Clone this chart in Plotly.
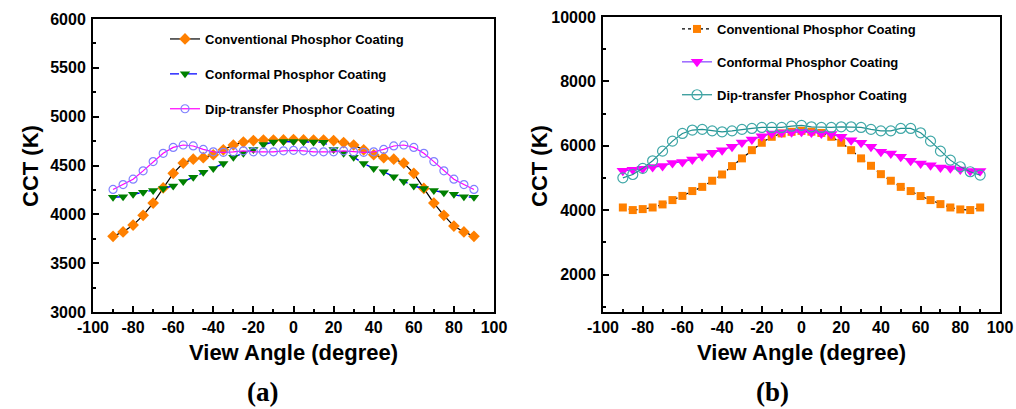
import plotly.graph_objects as go

angles = [-90, -85, -80, -75, -70, -65, -60, -55, -50, -45, -40, -35, -30, -25, -20, -15, -10, -5, 0,
          5, 10, 15, 20, 25, 30, 35, 40, 45, 50, 55, 60, 65, 70, 75, 80, 85, 90]

# Panel (a)
a_conventional = [3775, 3820, 3890, 3990, 4115, 4270, 4420, 4525, 4565, 4580, 4610, 4660, 4710, 4740, 4755, 4760, 4760, 4762, 4765,
                  4762, 4760, 4760, 4755, 4735, 4710, 4660, 4610, 4580, 4565, 4525, 4420, 4265, 4115, 3990, 3880, 3820, 3775]
a_conformal = [4175, 4180, 4205, 4225, 4245, 4265, 4290, 4335, 4380, 4430, 4470, 4520, 4585, 4625, 4665, 4715, 4740, 4745, 4745,
               4742, 4740, 4738, 4665, 4625, 4585, 4520, 4470, 4435, 4385, 4335, 4290, 4265, 4245, 4220, 4205, 4180, 4175]
a_dip = [4255, 4305, 4360, 4445, 4540, 4625, 4685, 4710, 4700, 4665, 4640, 4635, 4640, 4650, 4640, 4640, 4640, 4650, 4655,
         4650, 4640, 4640, 4640, 4650, 4640, 4635, 4640, 4665, 4700, 4710, 4685, 4625, 4540, 4445, 4360, 4305, 4255]

# Panel (b)
b_conventional = [4085, 4005, 4035, 4085, 4180, 4315, 4445, 4595, 4725, 4915, 5110, 5370, 5610, 5865, 6095, 6280, 6385, 6435, 6465,
                  6440, 6400, 6280, 6095, 5865, 5610, 5380, 5120, 4915, 4725, 4595, 4440, 4315, 4190, 4085, 4025, 4005, 4085]
b_conformal = [5225, 5255, 5285, 5340, 5370, 5470, 5500, 5575, 5680, 5785, 5865, 5970, 6105, 6195, 6300, 6385, 6415, 6420, 6435,
               6415, 6385, 6365, 6280, 6175, 6095, 5970, 5815, 5760, 5660, 5535, 5450, 5400, 5330, 5300, 5265, 5215, 5215]
b_dip = [5005, 5110, 5300, 5535, 5835, 6145, 6385, 6490, 6510, 6465, 6435, 6465, 6510, 6540, 6570, 6570, 6570, 6610, 6635,
         6590, 6570, 6570, 6590, 6590, 6570, 6510, 6465, 6465, 6540, 6540, 6405, 6145, 5835, 5555, 5350, 5195, 5090]

x_ticks = [-100, -80, -60, -40, -20, 0, 20, 40, 60, 80, 100]
x_ticklabels = ["-100", "-80", "-60", "-40", "-20", "0", "20", "40", "60", "80", "100"]
a_yticks = [3000, 3500, 4000, 4500, 5000, 5500, 6000]
b_yticks = [2000, 4000, 6000, 8000, 10000]

names = ["Conventional Phosphor Coating", "Conformal Phosphor Coating", "Dip-transfer Phosphor Coating"]

W, H = 1016, 409
FONT = "Liberation Sans, Arial, sans-serif"

fig = go.Figure()

# panel a traces
fig.add_trace(go.Scatter(x=angles, y=a_conventional, name=names[0], mode="lines+markers",
                         line=dict(color="black", width=1.2),
                         marker=dict(symbol="diamond", size=9, color="#FF8000"),
                         xaxis="x", yaxis="y", legend="legend", legendgroup="a1"))
fig.add_trace(go.Scatter(x=angles, y=a_conformal, name=names[1], mode="lines+markers",
                         line=dict(color="#0000FF", width=1.4, dash="dash"),
                         marker=dict(symbol="triangle-down", size=9, color="#008000"),
                         xaxis="x", yaxis="y", legend="legend", legendgroup="a2"))
fig.add_trace(go.Scatter(x=angles, y=a_dip, name=names[2], mode="lines+markers",
                         line=dict(color="#FF00FF", width=1.2),
                         marker=dict(symbol="circle-open", size=8, color="#8080FF", line=dict(width=1.2)),
                         xaxis="x", yaxis="y", legend="legend", legendgroup="a3"))

# panel b traces
fig.add_trace(go.Scatter(x=angles, y=b_conventional, name=names[0], mode="lines+markers",
                         line=dict(color="black", width=1.2, dash="dot"),
                         marker=dict(symbol="square", size=8, color="#FF8000"),
                         xaxis="x2", yaxis="y2", legend="legend2", legendgroup="b1"))
fig.add_trace(go.Scatter(x=angles, y=b_conformal, name=names[1], mode="lines+markers",
                         line=dict(color="#8040FF", width=1.2),
                         marker=dict(symbol="triangle-down", size=11, color="#FF00FF"),
                         xaxis="x2", yaxis="y2", legend="legend2", legendgroup="b2"))
fig.add_trace(go.Scatter(x=angles, y=b_dip, name=names[2], mode="lines+markers",
                         line=dict(color="#209090", width=1.2),
                         marker=dict(symbol="circle-open", size=10, color="#40A8A8", line=dict(width=1.2)),
                         xaxis="x2", yaxis="y2", legend="legend2", legendgroup="b3"))

axis_common = dict(showline=True, linecolor="black", linewidth=2, mirror=True,
                   ticks="inside", ticklen=6, tickwidth=1.5, tickcolor="black",
                   showgrid=False, zeroline=False, automargin=False,
                   tickfont=dict(family=FONT, size=16, color="black", weight="bold"))
minor_common = dict(ticks="inside", ticklen=3, tickcolor="black", tickwidth=1.5)
title_font = dict(family=FONT, size=22, color="black", weight="bold")
legend_font = dict(family=FONT, size=13, color="black", weight="bold")
label_font = dict(family="Liberation Serif, Times New Roman, serif", size=27, color="black", weight="bold")

fig.update_layout(
    width=W, height=H, margin=dict(l=0, r=0, t=0, b=0),
    paper_bgcolor="white", plot_bgcolor="white",
    xaxis=dict(domain=[93 / W, 494 / W], range=[-100, 100], tickvals=x_ticks, ticktext=x_ticklabels,
               anchor="y", minor=dict(dtick=10, **minor_common), **axis_common),
    yaxis=dict(domain=[(H - 312) / H, (H - 19) / H], range=[3000, 6000], tickvals=a_yticks,
               ticktext=[str(v) for v in a_yticks], anchor="x", ticklabelstandoff=2,
               minor=dict(dtick=250, **minor_common), **axis_common),
    xaxis2=dict(domain=[603 / W, 1000 / W], range=[-100, 100], tickvals=x_ticks, ticktext=x_ticklabels,
                anchor="y2", minor=dict(dtick=10, **minor_common), **axis_common),
    yaxis2=dict(domain=[(H - 312) / H, (H - 17) / H], range=[840, 10000], tickvals=b_yticks,
                ticktext=[str(v) for v in b_yticks], anchor="x2", ticklabelstandoff=2,
                minor=dict(tick0=0, dtick=1000, **minor_common), **axis_common),
    legend=dict(x=165 / W, y=1 - 24 / H, xanchor="left", yanchor="top", bgcolor="rgba(0,0,0,0)",
                traceorder="grouped", tracegroupgap=15, font=legend_font),
    legend2=dict(x=677 / W, y=1 - 14 / H, xanchor="left", yanchor="top", bgcolor="rgba(0,0,0,0)",
                 traceorder="grouped", tracegroupgap=13, font=legend_font),
    annotations=[
        dict(text="View Angle (degree)", x=293 / W, y=1 - 352 / H, xref="paper", yref="paper",
             xanchor="center", yanchor="middle", showarrow=False, font=title_font),
        dict(text="View Angle (degree)", x=801 / W, y=1 - 352 / H, xref="paper", yref="paper",
             xanchor="center", yanchor="middle", showarrow=False, font=title_font),
        dict(text="CCT (K)", x=30 / W, y=1 - 166 / H, xref="paper", yref="paper", textangle=-90,
             xanchor="center", yanchor="middle", showarrow=False, font=title_font),
        dict(text="CCT (K)", x=539 / W, y=1 - 166 / H, xref="paper", yref="paper", textangle=-90,
             xanchor="center", yanchor="middle", showarrow=False, font=title_font),
        dict(text="(a)", x=262 / W, y=1 - 392 / H, xref="paper", yref="paper",
             xanchor="center", yanchor="middle", showarrow=False, font=label_font),
        dict(text="(b)", x=772 / W, y=1 - 392 / H, xref="paper", yref="paper",
             xanchor="center", yanchor="middle", showarrow=False, font=label_font),
    ],
)

fig.write_html("out.html")
